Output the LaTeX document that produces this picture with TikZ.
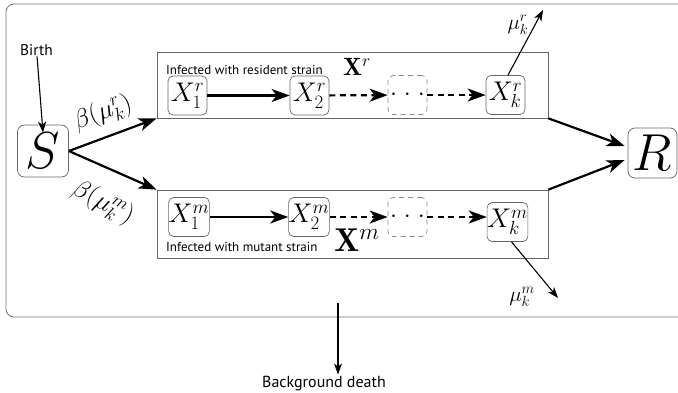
\RequirePackage{fix-cm}
\documentclass[tikz,border=0pt]{standalone}
\usepackage{fontspec}
\newfontfamily\lab{PT Sans}
\usetikzlibrary{arrows.meta}
\begin{document}
\begin{tikzpicture}[x=1pt,y=-1pt,
  comp/.style={draw=black!60, rounded corners=5pt, line width=0.7pt, minimum width=39pt, minimum height=39pt, inner sep=0pt, font=\fontsize{27}{27}\selectfont},
  bigcomp/.style={comp, minimum width=51pt, minimum height=52pt, rounded corners=7pt, font=\fontsize{52}{52}\selectfont},
  dotbox/.style={comp, draw=black!45, dash pattern=on 5pt off 4pt},
  group/.style={draw=black!60, line width=0.7pt, inner sep=0pt},
  flow/.style={line width=2.2pt, -{Stealth[length=18pt,width=13pt,inset=5pt]}},
  dflow/.style={flow, dash pattern=on 6pt off 4.5pt},
  thinflow/.style={line width=1.1pt, -{Stealth[length=11pt,width=8pt,inset=3pt]}},
  txt/.style={font=\lab\fontsize{16}{16}\selectfont, inner sep=1pt},
  smalltxt/.style={font=\lab\fontsize{13}{13}\selectfont, inner sep=0pt},
  mathlab/.style={font=\fontsize{21}{21}\selectfont, inner sep=0pt}
]
\useasboundingbox (0,0) rectangle (678,392);
\fill[white] (0,0) rectangle (678,392);
\draw[draw=black!55, line width=0.8pt, rounded corners=8pt] (6,4) rectangle (720,317);

% groups
\node[group, minimum width=391pt, minimum height=66pt] (boxr) at (352.5,85) {};
\node[group, minimum width=391pt, minimum height=68pt] (boxm) at (352.5,224) {};

% compartments
\node[bigcomp] (S) at (43,151) {$S$};
\node[bigcomp, minimum width=49pt, minimum height=50pt] (R) at (652.5,153) {$R$};

\node[comp] (x1r) at (187.5,95.5) {$X^r_1$};
\node[comp] (x2r) at (309.5,95.5) {$X^r_2$};
\node[dotbox, font=\fontsize{25}{25}\selectfont] (dr) at (407.5,95) {${\cdot}\;{\cdot}\;{\cdot}$};
\node[comp] (xkr) at (505.5,95) {$X^r_k$};

\node[comp] (x1m) at (189,217) {$X^m_1$};
\node[comp] (x2m) at (309,217) {$X^m_2$};
\node[dotbox, font=\fontsize{25}{25}\selectfont] (dm) at (407.5,217) {${\cdot}\;{\cdot}\;{\cdot}$};
\node[comp] (xkm) at (507.5,222) {$X^m_k$};

% texts
\node[smalltxt, anchor=base west] (tr) at (166,74) {Infected with resident strain};
\node[smalltxt, anchor=base west] (tm) at (166,251) {Infected with mutant strain};
\node[font=\fontsize{25}{25}\selectfont, inner sep=0pt] (lxr) at (357,67) {$\mathbf{X}^r$};
\node[font=\fontsize{33}{33}\selectfont, inner sep=0pt] (lxm) at (357,240) {$\mathbf{X}^m$};
\node[txt, anchor=base, font=\lab\fontsize{15.5}{15.5}\selectfont] (birth) at (36.5,55) {Birth};
\node[txt, anchor=base] (death) at (324,387) {Background death};
\node[rotate=20, font=\fontsize{26}{26}\selectfont, inner sep=0pt] (br) at (103,113) {$\beta(\mu^r_k)$};
\node[rotate=-28, font=\fontsize{26}{26}\selectfont, inner sep=0pt] (bm) at (103,203) {$\beta(\mu^m_k)$};
\node[mathlab] (lmur) at (518,25) {$\mu^r_k$};
\node[mathlab] (lmum) at (522,297) {$\mu^m_k$};

% chains
\draw[flow] (x1r) -- (x2r);
\draw[dflow] (x2r) -- (dr);
\draw[dflow] (dr) -- (xkr);
\draw[flow] (x1m) -- (x2m);
\draw[dflow] (x2m) -- (dm);
\draw[dflow] (dm) -- (xkm.west |- dm);

% infection and recovery
\draw[flow] (S.east) -- (boxr.south west);
\draw[flow] (S.east) -- (boxm.north west);
\draw[flow] (boxr.south east) -- ([xshift=-3pt,yshift=7pt]R.west);
\draw[flow] (boxm.north east) -- ([xshift=-3pt,yshift=-7pt]R.west);

% births and deaths
\coordinate (mur) at (543,10);
\coordinate (mum) at (558,298);
\coordinate (bd) at (338,303);
\draw[thinflow] (birth) -- ([yshift=-8pt]S.north);
\draw[thinflow] ([xshift=2.5pt]xkr.north) -- (mur);
\draw[thinflow] ([xshift=4pt]xkm.south) -- (mum);
\draw[thinflow] (bd) -- (death.north -| bd);
\end{tikzpicture}
\end{document}
